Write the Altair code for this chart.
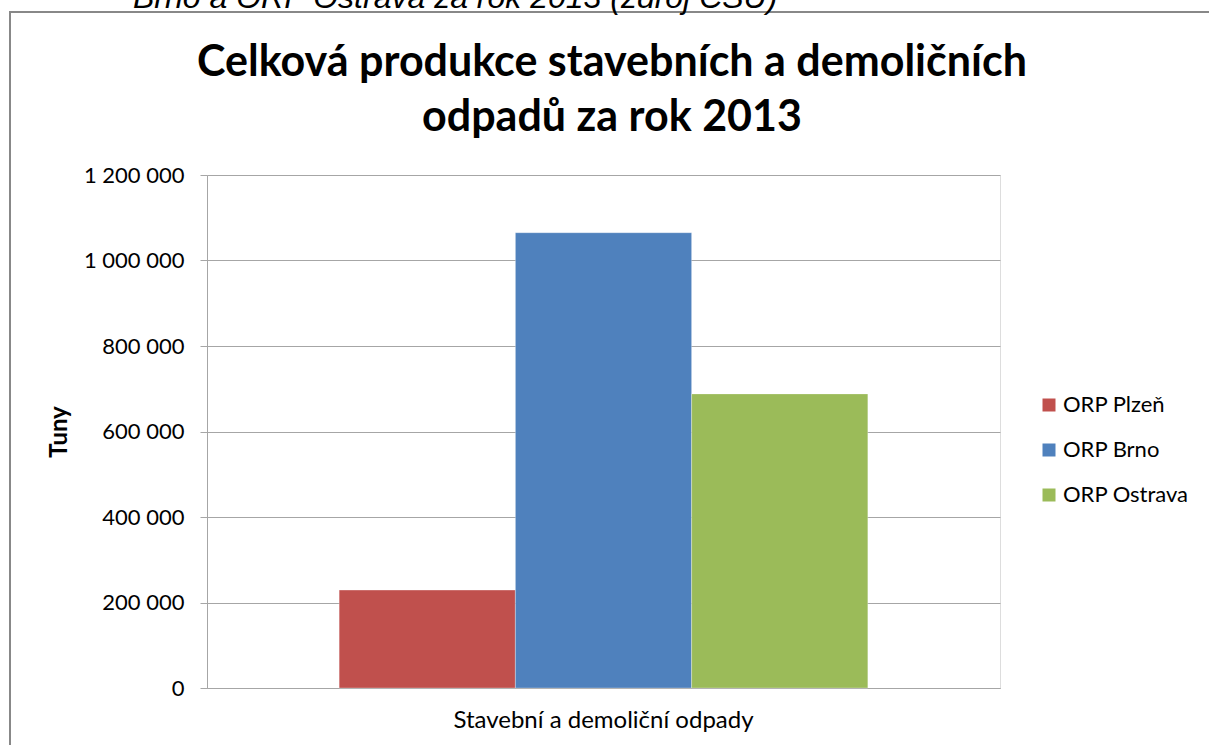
import altair as alt
import pandas as pd

category = ["Stavební a demoliční odpady"]
series = ["ORP Plzeň", "ORP Brno", "ORP Ostrava"]
values = [229000, 1065000, 688000]
colors = ["#C0504D", "#4F81BD", "#9BBB59"]
y_ticks = [0, 200000, 400000, 600000, 800000, 1000000, 1200000]

df = pd.DataFrame({"kategorie": category * len(series), "oblast": series, "tuny": values})

W, H = 793, 513
PL, PT, PR, PB = 207, 175, 209, 57
FONT = "Lato"

bars = alt.Chart(df).mark_bar(stroke="#ffffff", strokeWidth=0.6, strokeOpacity=0.5).encode(
    x=alt.X("kategorie:N", title=None,
            scale=alt.Scale(paddingInner=0, paddingOuter=0.25),
            axis=alt.Axis(labelAngle=0, ticks=False, domain=True, domainColor="#A6A6A6",
                          labelFont=FONT, labelFontSize=24, labelColor="#000000",
                          labelPadding=20, labelLimit=0, grid=False)),
    xOffset=alt.XOffset("oblast:N", sort=series,
                        scale=alt.Scale(paddingInner=0, paddingOuter=0)),
    y=alt.Y("tuny:Q", title="Tuny",
            scale=alt.Scale(domain=[0, 1200000], nice=False),
            axis=alt.Axis(values=y_ticks, grid=True, gridColor="#A6A6A6", gridWidth=1,
                          domainColor="#A6A6A6", tickColor="#A6A6A6", tickSize=7,
                          labelExpr="replace(format(datum.value, ','), regexp(',', 'g'), ' ')",
                          labelFont=FONT, labelFontSize=22, labelColor="#000000",
                          labelPadding=16,
                          titleFont=FONT, titleFontSize=24, titleFontWeight="bold",
                          titleColor="#000000", titlePadding=12)),
    color=alt.Color("oblast:N", sort=series,
                    scale=alt.Scale(domain=series, range=colors),
                    legend=alt.Legend(title=None, orient="none", legendX=831, legendY=219,
                                      symbolType="square", symbolSize=169,
                                      symbolStrokeWidth=0, labelFont=FONT,
                                      labelFontSize=22, labelColor="#000000",
                                      rowPadding=23, padding=0, labelOffset=3)),
)

frame_df = pd.DataFrame({"k": [0]})
frame = alt.Chart(frame_df).mark_rect(fill=None, stroke="#888888", strokeWidth=2).encode(
    x=alt.value(10 - PL), x2=alt.value(1209 - PL + 10),
    y=alt.value(12 - PT), y2=alt.value(745 - PT + 10),
)

top_text = alt.Chart(frame_df).mark_text(
    text="Brno a ORP Ostrava za rok 2013 (zdroj ČSÚ)", font="Liberation Sans",
    fontStyle="italic", fontSize=32, align="left", baseline="alphabetic", color="#000000"
).encode(x=alt.value(133 - PL), y=alt.value(8 - PT))

title_lines = ["Celková produkce stavebních a demoličních", "odpadů za rok 2013"]
title_df = pd.DataFrame({"t": title_lines, "yy": [76 - PT, 131 - PT]})
title = alt.Chart(title_df).mark_text(
    font=FONT, fontWeight="bold", fontSize=43, align="center", baseline="alphabetic",
    color="#000000"
).encode(text="t:N", x=alt.value(612 - PL), y=alt.Y("yy:Q", scale=None))

chart = alt.layer(frame, top_text, title, bars).properties(
    width=W, height=H,
    autosize=alt.AutoSizeParams(type="none"),
    padding={"left": PL, "top": PT, "right": PR, "bottom": PB},
).configure_view(stroke=None).configure(background="#ffffff")

chart.save("out.html", embed_options={"renderer": "svg", "actions": False})
